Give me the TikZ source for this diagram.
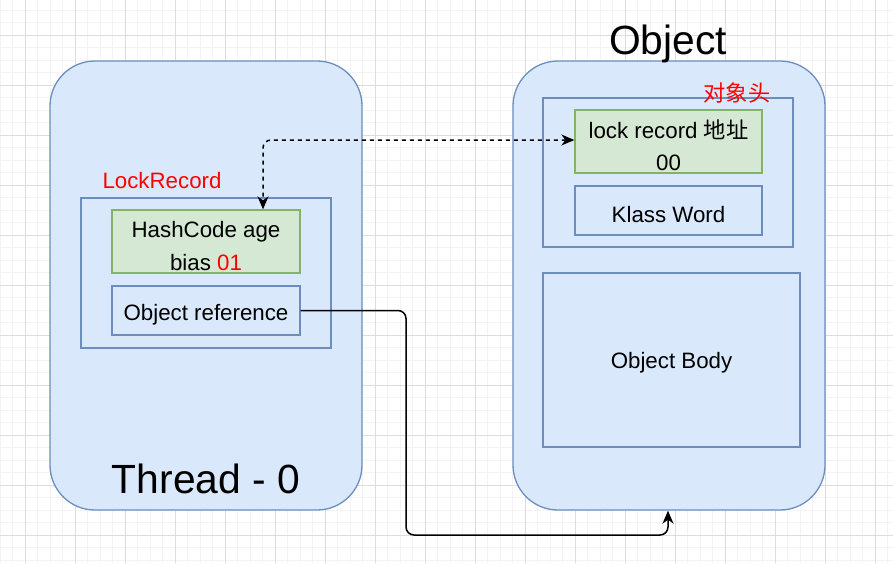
\documentclass[tikz,border=0pt]{standalone}
\usepackage{fontspec}
\setmainfont{Liberation Sans}
\newfontfamily\cjk{Noto Sans CJK SC}
\usetikzlibrary{arrows.meta}
\definecolor{bluefill}{HTML}{DAE8FC}
\definecolor{blueline}{HTML}{6C8EBF}
\definecolor{greenfill}{HTML}{D5E8D4}
\definecolor{greenline}{HTML}{82B366}
\definecolor{gridminor}{HTML}{F3F3F3}
\definecolor{gridmajor}{HTML}{DDDDDD}
\definecolor{redtxt}{HTML}{FF0000}
\tikzset{
  smalltxt/.style={font=\fontsize{22.3}{32.5}\selectfont, inner sep=0pt, align=center},
  bigtxt/.style={font=\fontsize{40.8}{48}\selectfont, inner sep=0pt},
  container/.style={draw=blueline, fill=bluefill, line width=1.3pt, rounded corners=45pt, inner sep=0pt},
  bluebox/.style={draw=blueline, fill=bluefill, line width=1.3pt, inner sep=0pt},
  greenbox/.style={draw=greenline, fill=greenfill, line width=1.3pt, inner sep=0pt},
  redlabel/.style={text=redtxt, smalltxt},
  conn/.style={line width=1.5pt, rounded corners=8pt},
  arrowtip/.tip={Stealth[length=13pt,width=11pt,inset=4pt]},
}
\begin{document}
\begin{tikzpicture}[x=1pt,y=-1pt]
\useasboundingbox (0,0) rectangle (893,563);
\fill[white] (0,0) rectangle (893,563);
% grid
\foreach \i in {0,...,72} {\draw[gridminor, line width=0.8pt] (\i*12.5,0) -- (\i*12.5,563);}
\foreach \j in {0,...,45} {\draw[gridminor, line width=0.8pt] (0,10+\j*12.5) -- (893,10+\j*12.5);}
\foreach \i in {0,...,17} {\draw[gridmajor, line width=0.8pt] (25+\i*50,0) -- (25+\i*50,563);}
\foreach \j in {0,...,10} {\draw[gridmajor, line width=0.8pt] (0,35+\j*50) -- (893,35+\j*50);}

% containers
\node[container, minimum width=312pt, minimum height=449pt] (thread) at (206,285.5) {};
\node[container, minimum width=312pt, minimum height=449pt] (obj) at (669,285.5) {};
\node[bigtxt, anchor=base] (threadlbl) at (206,493) {Thread - 0};
\node[bigtxt, anchor=base] (objlbl) at (668,54) {Object};

% left side
\node[bluebox, minimum width=250pt, minimum height=150pt] (lr) at (206,273) {};
\node[redlabel] (lrlbl) at (162,181) {LockRecord};
\node[greenbox, minimum width=188pt, minimum height=63pt] (hash) at (206,241.5) {};
\node[smalltxt] (hashtxt) at (206,246) {HashCode age\\bias \textcolor{redtxt}{01}};
\node[bluebox, minimum width=188pt, minimum height=49pt] (objref) at (206,310.5) {};
\node[smalltxt] (objreftxt) at (206,315) {Object reference};

% right side
\node[bluebox, minimum width=250pt, minimum height=149pt] (header) at (668,172.5) {};
\node[redlabel] (hdrlbl) at (737,93) {\cjk 对象头};
\node[greenbox, minimum width=187pt, minimum height=63pt] (lockaddr) at (668.5,141.5) {};
\node[smalltxt] (lockaddrtxt) at (668.5,145) {lock record {\cjk 地址}\\00};
\node[bluebox, minimum width=187pt, minimum height=49pt] (klass) at (668.5,210.5) {};
\node[smalltxt] (klasstxt) at (668.5,215) {Klass Word};
\node[bluebox, minimum width=257pt, minimum height=174pt] (body) at (671.5,360) {};
\node[smalltxt] (bodytxt) at (671.5,362.5) {Object Body};

% connectors
\draw[conn, dash pattern=on 4pt off 4pt, arrowtip-arrowtip]
  ([yshift=1.5pt]lockaddr.west) -| ([xshift=57pt]hash.north);
\coordinate (bend) at (406,535);
\draw[conn, -arrowtip] (objref.east) -| (bend) -| ([xshift=-1pt]obj.south);
\end{tikzpicture}
\end{document}
